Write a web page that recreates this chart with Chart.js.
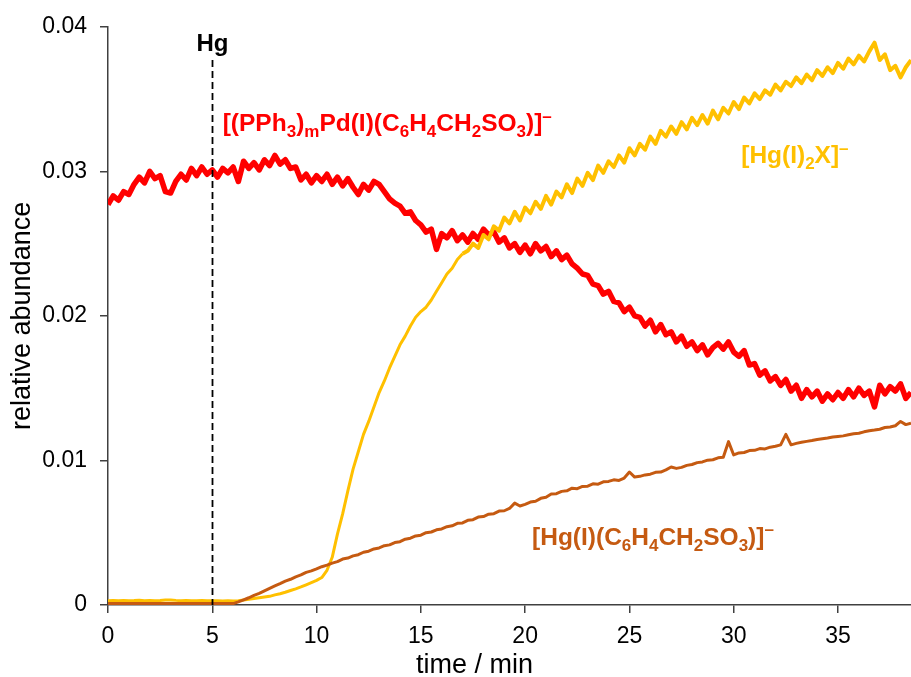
<!DOCTYPE html>
<html>
<head>
<meta charset="utf-8">
<title>relative abundance vs time</title>
<script src="https://cdn.jsdelivr.net/npm/chart.js@4.4.1/dist/chart.umd.min.js"></script>
<style>
  html, body { margin: 0; padding: 0; background: #fff; }
  #wrap { width: 911px; height: 677px; }
</style>
</head>
<body>
<div id="wrap"><canvas id="abundanceChart" width="911" height="677"></canvas></div>
<script>
// sampling interval of the traces, minutes
const step = 0.25;

// [(PPh3)mPd(I)(C6H4CH2SO3)]- (one row per minute)
const pdComplex = [
  0.0277, 0.0283, 0.0280, 0.0286,
  0.0284, 0.0291, 0.0296, 0.0292,
  0.0300, 0.0295, 0.0297, 0.0286,
  0.0285, 0.0293, 0.0298, 0.0294,
  0.0302, 0.0297, 0.0303, 0.0298,
  0.0301, 0.0296, 0.0302, 0.0299,
  0.0303, 0.0293, 0.0307, 0.0302,
  0.0306, 0.0301, 0.0308, 0.0304,
  0.0311, 0.0305, 0.0308, 0.0302,
  0.0303, 0.0294, 0.0298, 0.0292,
  0.0297, 0.0293, 0.0298, 0.0291,
  0.0296, 0.0290, 0.0295, 0.0289,
  0.0284, 0.0291, 0.0287, 0.0293,
  0.0291, 0.0286, 0.0281, 0.0278,
  0.0276, 0.0271, 0.0272, 0.0266,
  0.0263, 0.0258, 0.0260, 0.0246,
  0.0257, 0.0254, 0.0259, 0.0252,
  0.0256, 0.0251, 0.0257, 0.0253,
  0.0260, 0.0256, 0.0258, 0.0251,
  0.0254, 0.0247, 0.0250, 0.0244,
  0.0249, 0.0243, 0.0250, 0.0245,
  0.0248, 0.0241, 0.0245, 0.0239,
  0.0242, 0.0236, 0.0233, 0.0229,
  0.0228, 0.0222, 0.0221, 0.0215,
  0.0217, 0.0210, 0.0209, 0.0203,
  0.0206, 0.0200, 0.0199, 0.0193,
  0.0197, 0.0189, 0.0194, 0.0187,
  0.0189, 0.0182, 0.0186, 0.0179,
  0.0182, 0.0176, 0.0180, 0.0173,
  0.0178, 0.0181, 0.0177, 0.0182,
  0.0175, 0.0172, 0.0176, 0.0166,
  0.0167, 0.0159, 0.0162, 0.0155,
  0.0158, 0.0152, 0.0156, 0.0148,
  0.0152, 0.0143, 0.0149, 0.0144,
  0.0148, 0.0141, 0.0146, 0.0142,
  0.0147, 0.0143, 0.0149, 0.0144,
  0.0150, 0.0145, 0.0148, 0.0137,
  0.0152, 0.0146, 0.0151, 0.0148,
  0.0153, 0.0143, 0.0147
];

// [Hg(I)2X]-
const hgDiiodide = [
  0.00030, 0.00032, 0.00029, 0.00031,
  0.00030, 0.00031, 0.00033, 0.00030,
  0.00032, 0.00030, 0.00031, 0.00034,
  0.00035, 0.00032, 0.00030, 0.00031,
  0.00030, 0.00029, 0.00031, 0.00030,
  0.00029, 0.00030, 0.00028, 0.00029,
  0.00028, 0.00030, 0.00035, 0.00040,
  0.00045, 0.00050, 0.00055, 0.00060,
  0.00070, 0.00078, 0.00088, 0.00100,
  0.00112, 0.00125, 0.00140, 0.00155,
  0.00170, 0.00190, 0.00240, 0.00330,
  0.0049, 0.0063, 0.0079, 0.0094,
  0.0106, 0.0118, 0.0127, 0.0137,
  0.0147, 0.0155, 0.0164, 0.0172,
  0.0180, 0.0186, 0.0193, 0.0199,
  0.0203, 0.0206, 0.0211, 0.0217,
  0.0223, 0.0229, 0.0233, 0.0239,
  0.0243, 0.0245, 0.0250, 0.0247,
  0.0256, 0.0253, 0.0262, 0.0259,
  0.0268, 0.0264, 0.0272, 0.0266,
  0.0275, 0.0271, 0.0279, 0.0274,
  0.0283, 0.0277, 0.0286, 0.0282,
  0.0291, 0.0285, 0.0295, 0.0290,
  0.0299, 0.0294, 0.0304, 0.0299,
  0.0307, 0.0303, 0.0311, 0.0306,
  0.0316, 0.0311, 0.0319, 0.0315,
  0.0324, 0.0319, 0.0328, 0.0324,
  0.0331, 0.0326, 0.0334, 0.0329,
  0.0337, 0.0332, 0.0339, 0.0333,
  0.0342, 0.0336, 0.0344, 0.0340,
  0.0348, 0.0343, 0.0351, 0.0347,
  0.0354, 0.0350, 0.0356, 0.0353,
  0.0360, 0.0356, 0.0362, 0.0359,
  0.0365, 0.0361, 0.0367, 0.0363,
  0.0370, 0.0366, 0.0372, 0.0368,
  0.0375, 0.0371, 0.0378, 0.0374,
  0.0380, 0.0376, 0.0383, 0.0389,
  0.0377, 0.0381, 0.0370, 0.0373,
  0.0365, 0.0372, 0.0377
];

// [Hg(I)(C6H4CH2SO3)]-
const hgAryl = [
  0.00010, 0.00010, 0.00010, 0.00010,
  0.00010, 0.00010, 0.00010, 0.00010,
  0.00010, 0.00010, 0.00010, 0.00010,
  0.00010, 0.00010, 0.00010, 0.00010,
  0.00010, 0.00010, 0.00010, 0.00010,
  0.00010, 0.00010, 0.00010, 0.00010,
  0.00010, 0.00022, 0.00036, 0.00050,
  0.00066, 0.00080, 0.00098, 0.00115,
  0.00132, 0.00148, 0.00165, 0.00178,
  0.00195, 0.00208, 0.00226, 0.00236,
  0.00250, 0.00265, 0.00276, 0.00290,
  0.00300, 0.00318, 0.00325, 0.00340,
  0.00348, 0.00365, 0.00372, 0.00388,
  0.00395, 0.00410, 0.00416, 0.00432,
  0.00438, 0.00455, 0.00462, 0.00478,
  0.00483, 0.00500, 0.00505, 0.00520,
  0.00526, 0.00542, 0.00548, 0.00565,
  0.00568, 0.00586, 0.00590, 0.00608,
  0.00612, 0.00628, 0.00632, 0.00650,
  0.00652, 0.00668, 0.00705, 0.00685,
  0.00696, 0.00712, 0.00718, 0.00738,
  0.00745, 0.00768, 0.00770, 0.00786,
  0.00790, 0.00808, 0.00805, 0.00820,
  0.00822, 0.00838, 0.00836, 0.00852,
  0.00855, 0.00866, 0.00862, 0.00878,
  0.00920, 0.00885, 0.00890, 0.00900,
  0.00905, 0.00918, 0.00920, 0.00935,
  0.00955, 0.00945, 0.00952, 0.00966,
  0.00972, 0.00985, 0.00990, 0.01002,
  0.01005, 0.01018, 0.01022, 0.01130,
  0.01038, 0.01052, 0.01055, 0.01068,
  0.01070, 0.01082, 0.01080, 0.01092,
  0.01098, 0.01108, 0.01180, 0.01108,
  0.01118, 0.01126, 0.01132, 0.01138,
  0.01145, 0.01150, 0.01155, 0.01162,
  0.01166, 0.01170, 0.01178, 0.01185,
  0.01188, 0.01198, 0.01205, 0.01210,
  0.01216, 0.01228, 0.01232, 0.01240,
  0.01270, 0.01248, 0.01258
];

const xTicks = [0, 5, 10, 15, 20, 25, 30, 35];
const yTicks = [0, 0.01, 0.02, 0.03, 0.04];
const yTickLabels = ['0', '0.01', '0.02', '0.03', '0.04'];

const hgAdded = 5; // min, Hg addition

const FONT = '"Liberation Sans", Arial, Helvetica, sans-serif';
const RED = '#ff0000';
const GOLD = '#ffc000';
const BROWN = '#c55a11';

const toPoints = vals => vals.map((v, i) => ({ x: i * step, y: v }));

// species labels with sub/superscripts: [text, 'sub' | 'sup' | '']
const speciesLabels = [
  { color: RED, x: 5.5, y: 0.03276, parts: [
    ['[(PPh', ''], ['3', 'sub'], [')', ''], ['m', 'sub'], ['Pd(I)(C', ''], ['6', 'sub'],
    ['H', ''], ['4', 'sub'], ['CH', ''], ['2', 'sub'], ['SO', ''], ['3', 'sub'], [')]', ''], ['\u2013', 'sup']] },
  { color: GOLD, x: 30.36, y: 0.03055, parts: [
    ['[Hg(I)', ''], ['2', 'sub'], ['X]', ''], ['\u2013', 'sup']] },
  { color: BROWN, x: 20.33, y: 0.00414, parts: [
    ['[Hg(I)(C', ''], ['6', 'sub'], ['H', ''], ['4', 'sub'], ['CH', ''], ['2', 'sub'],
    ['SO', ''], ['3', 'sub'], [')]', ''], ['\u2013', 'sup']] }
];

function drawFormula(ctx, parts, x, y, size, color) {
  const small = Math.round(size * 0.7);
  ctx.fillStyle = color;
  ctx.textBaseline = 'alphabetic';
  ctx.textAlign = 'left';
  let cx = x;
  parts.forEach(([txt, kind]) => {
    ctx.font = `bold ${kind ? small : size}px ${FONT}`;
    const dy = kind === 'sub' ? size * 0.24 : kind === 'sup' ? -size * 0.4 : 0;
    ctx.fillText(txt, cx, y + dy);
    cx += ctx.measureText(txt).width;
  });
}

const annotations = {
  id: 'annotations',
  afterDatasetsDraw(chart) {
    const { ctx, chartArea, scales: { x, y } } = chart;
    ctx.save();

    // Hg addition marker
    const hx = Math.round(x.getPixelForValue(hgAdded)) + 0.5;
    ctx.strokeStyle = '#000';
    ctx.lineWidth = 1.8;
    ctx.setLineDash([7, 4]);
    ctx.beginPath();
    ctx.moveTo(hx, y.getPixelForValue(0.0377));
    ctx.lineTo(hx, chartArea.bottom);
    ctx.stroke();
    ctx.setLineDash([]);

    ctx.font = `bold 24px ${FONT}`;
    ctx.fillStyle = '#000';
    ctx.textAlign = 'center';
    ctx.textBaseline = 'alphabetic';
    ctx.fillText('Hg', hx, y.getPixelForValue(0.03834));

    speciesLabels.forEach(l => {
      drawFormula(ctx, l.parts, x.getPixelForValue(l.x), y.getPixelForValue(l.y), 24.5, l.color);
    });

    // x axis title
    ctx.font = `27px ${FONT}`;
    ctx.fillStyle = '#000';
    ctx.textAlign = 'center';
    ctx.fillText('time / min', (chartArea.left + chartArea.right) / 2 - 35, 673);
    ctx.restore();
  }
};

const series = [
  { label: '[Hg(I)(C6H4CH2SO3)]-', data: toPoints(hgAryl), borderColor: BROWN, borderWidth: 3 },
  { label: '[Hg(I)2X]-', data: toPoints(hgDiiodide), borderColor: GOLD, borderWidth: 3.5,
    segment: { borderWidth: c => (c.p0.parsed.x < 17 ? 3 : 4) } },
  { label: '[(PPh3)mPd(I)(C6H4CH2SO3)]-', data: toPoints(pdComplex), borderColor: RED, borderWidth: 5.5 }
];

new Chart(document.getElementById('abundanceChart'), {
  type: 'line',
  data: {
    datasets: series.map(s => ({
      ...s,
      pointRadius: 0,
      tension: 0,
      fill: false,
      borderJoinStyle: 'round'
    }))
  },
  options: {
    responsive: false,
    animation: false,
    layout: { padding: { top: 25, right: 0, left: 0, bottom: 0 } },
    plugins: {
      legend: { display: false },
      tooltip: { enabled: false }
    },
    scales: {
      x: {
        type: 'linear',
        min: 0,
        max: 38.5,
        afterBuildTicks: s => { s.ticks = xTicks.map(v => ({ value: v })); },
        afterFit: s => { s.height = 72; },
        grid: { display: true, drawOnChartArea: false, drawTicks: true, tickLength: 8, color: '#404040', lineWidth: 1.5 },
        border: { display: true, color: '#404040', width: 1.5 },
        ticks: { color: '#000', font: { family: FONT, size: 23 }, padding: 10, maxRotation: 0 }
      },
      y: {
        min: 0,
        max: 0.04,
        afterBuildTicks: s => { s.ticks = yTicks.map(v => ({ value: v })); },
        afterFit: s => { s.width = 108; },
        grid: { display: true, drawOnChartArea: false, drawTicks: true, tickLength: 8, color: '#404040', lineWidth: 1.5 },
        border: { display: true, color: '#404040', width: 1.5 },
        ticks: {
          color: '#000',
          font: { family: FONT, size: 23 },
          padding: 13,
          callback: v => yTickLabels[yTicks.indexOf(v)] ?? ''
        },
        title: {
          display: true,
          text: 'relative abundance',
          color: '#000',
          font: { family: FONT, size: 27, lineHeight: 1 },
          padding: { top: 9, bottom: 0 }
        }
      }
    }
  },
  plugins: [annotations]
});
</script>
</body>
</html>
